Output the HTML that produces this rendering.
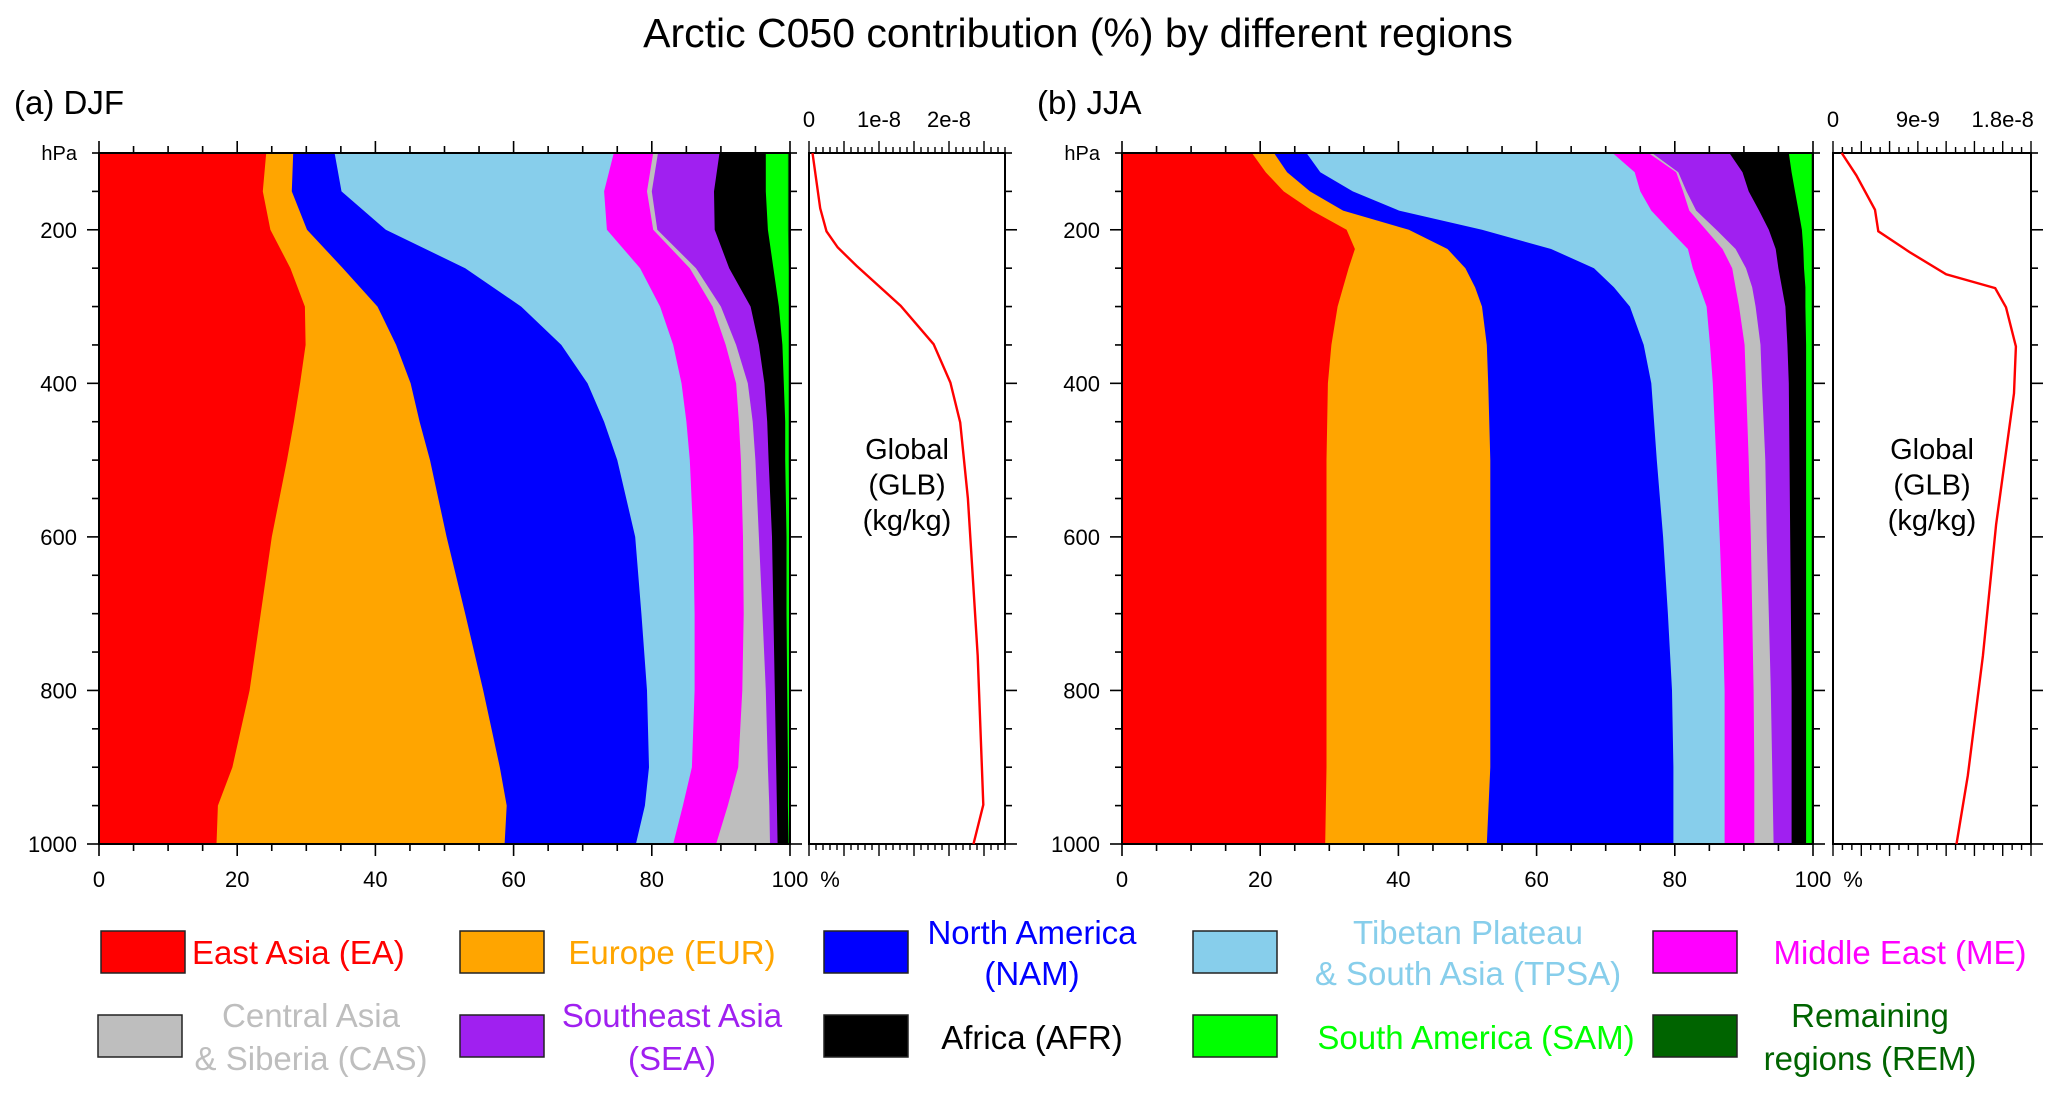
<!DOCTYPE html>
<html><head><meta charset="utf-8"><style>
html,body{margin:0;padding:0;background:#fff;}
svg{display:block;font-family:"Liberation Sans",Arial,sans-serif;}
</style></head><body>
<svg id="fig" width="2067" height="1102" viewBox="0 0 2067 1102" xmlns="http://www.w3.org/2000/svg">
<text x="1078" y="47" font-size="41" text-anchor="middle">Arctic C050 contribution (%) by different regions</text>
<g id="pa"></g>
<g id="pb"></g>
<g id="legend"></g>
</svg>
<script>
const regions = ["EA","EUR","NAM","TPSA","ME","CAS","SEA","AFR","SAM","REM"];
const colors = ["#ff0000","#ffa500","#0000ff","#87ceeb","#ff00ff","#bebebe","#a020f0","#000000","#00ff00","#006400"];
// DJF cumulative boundaries (%)
const djfLevels = [100,150,200,250,300,350,400,450,500,600,700,800,900,950,1000];
const djfEA  = [24.2,23.7,24.8,27.7,29.8,29.9,29.1,28.2,27.2,25.0,23.4,21.8,19.3,17.2,17.0];
const djfEUR = [28.1,27.9,30.1,35.3,40.3,43.0,45.1,46.4,47.9,50.3,53.0,55.6,58.0,59.0,58.7];
const djfNAM = [34.1,35.1,41.5,53.0,61.1,66.9,70.7,73.1,75.0,77.6,78.5,79.3,79.6,79.0,77.7];
const djfTPSA= [74.5,73.1,73.5,78.3,81.2,83.1,84.3,85.0,85.5,86.0,86.2,86.2,85.8,84.5,83.1];
const djfME  = [80.2,79.3,80.2,85.5,88.8,90.7,92.2,92.6,92.9,93.2,93.3,93.1,92.5,91.0,89.3];
const djfCAS = [80.9,80.0,80.8,86.4,90.0,92.2,93.9,94.6,95.0,95.5,96.0,96.5,96.8,97.0,97.1];
const djfSEA = [89.8,89.0,89.1,91.2,94.3,95.5,96.3,96.7,96.9,97.4,97.6,97.8,98.0,98.1,98.2];
const djfAFR = [96.5,96.5,96.8,97.6,98.4,98.9,99.1,99.3,99.3,99.5,99.5,99.6,99.7,99.7,99.8];
const djfSAM = [99.7,99.7,99.7,99.8,99.8,99.8,99.8,99.8,99.8,99.9,99.9,99.9,99.9,99.9,99.9];
const djfREM = [100,100,100,100,100,100,100,100,100,100,100,100,100,100,100];
const djfGlbLevels = [100,172,202,223,247,299,349,399,451,550,755,949,1000];
const djfGlb = [0.05e-8,0.16e-8,0.25e-8,0.41e-8,0.68e-8,1.31e-8,1.78e-8,2.02e-8,2.16e-8,2.27e-8,2.41e-8,2.49e-8,2.35e-8];
const djfGlbTicks = [0,1e-8,2e-8];
const djfGlbTickLabels = ["0","1e-8","2e-8"];
const djfGlbMax = 2.8e-8;
// JJA
const jjaLevels = [100,125,150,175,200,225,250,275,300,350,400,500,600,700,800,900,1000];
const jjaEA  = [18.8,20.8,23.4,27.5,32.5,33.7,32.8,32.0,31.2,30.3,29.8,29.6,29.6,29.6,29.6,29.6,29.4];
const jjaEUR = [22.0,23.9,27.2,32.0,41.5,47.1,49.7,51.1,52.1,52.8,53.0,53.3,53.3,53.3,53.3,53.3,52.8];
const jjaNAM = [26.7,28.7,33.4,40.1,52.1,62.1,68.3,71.2,73.5,75.5,76.6,77.4,78.3,79.0,79.6,79.8,79.8];
const jjaTPSA= [71.0,74.2,75.0,76.6,79.2,81.9,82.6,83.6,84.6,85.1,85.5,86.0,86.5,86.9,87.2,87.2,87.2];
const jjaME  = [76.2,80.2,81.2,82.1,84.5,86.9,88.3,88.8,89.3,90.1,90.3,90.7,91.0,91.2,91.4,91.5,91.5];
const jjaCAS = [76.7,80.5,81.7,83.1,86.0,88.8,90.3,91.2,91.7,92.4,92.6,93.1,93.3,93.6,93.9,94.1,94.3];
const jjaSEA = [87.9,89.8,90.7,92.2,93.6,94.6,95.0,95.5,96.0,96.3,96.5,96.6,96.7,96.8,96.9,96.9,96.9];
const jjaAFR = [96.5,96.9,97.4,97.9,98.4,98.6,98.7,98.9,98.9,99.0,99.0,99.0,99.0,99.0,99.0,99.0,99.0];
const jjaSAM = [99.8,99.8,99.8,99.8,99.8,99.8,99.8,99.8,99.8,99.8,99.8,99.8,99.8,99.8,99.8,99.8,99.8];
const jjaREM = [100,100,100,100,100,100,100,100,100,100,100,100,100,100,100,100,100];
const jjaGlbLevels = [100,129,174,202,229,258,276,301,352,413,584,755,911,1000];
const jjaGlb = [0.092e-8,0.247e-8,0.445e-8,0.48e-8,0.81e-8,1.20e-8,1.72e-8,1.835e-8,1.94e-8,1.92e-8,1.73e-8,1.59e-8,1.43e-8,1.31e-8];
const jjaGlbTicks = [0,9e-9,1.8e-8];
const jjaGlbTickLabels = ["0","9e-9","1.8e-8"];
const jjaGlbMax = 2.1e-8;
const pTicks = [200,400,600,800,1000];
const xTicks = [0,20,40,60,80,100];

const NS = "http://www.w3.org/2000/svg";
function mk(parent, tag, attrs, txt){
  const e = document.createElementNS(NS, tag);
  for (const k in attrs) e.setAttribute(k, attrs[k]);
  if (txt !== undefined) e.textContent = txt;
  parent.appendChild(e);
  return e;
}

function panel(g, o){
  const {x0,x1,gx0,gx1,y0,y1,levels,series,glbLevels,glb,glbTicks,glbTickLabels,glbMax,majorStep,minorStep,label,pctX} = o;
  const X = v => x0 + v/100*(x1-x0);
  const Y = p => y0 + (p-100)/900*(y1-y0);
  const GX = v => gx0 + v/glbMax*(gx1-gx0);
  for (let s = series.length-1; s >= 0; s--) {
    let d = "M" + X(0) + "," + Y(levels[0]);
    levels.forEach((p,i) => { d += " L" + X(series[s][i]).toFixed(1) + "," + Y(p).toFixed(1); });
    d += " L" + X(0) + "," + Y(levels[levels.length-1]) + " Z";
    const a = mk(g, "path", {d: d, fill: colors[s]});
    
    
  }
  const ax = {stroke:"#000","stroke-width":2,fill:"none"};
  const fr = mk(g,"rect",Object.assign({x:x0,y:y0,width:x1-x0,height:y1-y0},ax));
   
  const gf = mk(g,"rect",Object.assign({x:gx0,y:y0,width:gx1-gx0,height:y1-y0},ax));
   
  for (let v = 0; v <= 100; v += 5) {
    const L = v % 20 === 0 ? 12 : 7;
    mk(g,"line",{x1:X(v),x2:X(v),y1:y0,y2:y0-L,stroke:"#000","stroke-width":1.6});
    mk(g,"line",{x1:X(v),x2:X(v),y1:y1,y2:y1+L,stroke:"#000","stroke-width":1.6});
  }
  xTicks.forEach(v => {
    const t = mk(g,"text",{x:X(v),y:y1+43,"font-size":22,"text-anchor":"middle"}, String(v));
     
  });
  const pc = mk(g,"text",{x:pctX,y:y1+43,"font-size":22,"text-anchor":"middle"},"%");
   
  for (let p = 100; p <= 1000; p += 50) {
    const L = p % 200 === 0 ? 12 : 7;
    mk(g,"line",{x1:x0,x2:x0-L,y1:Y(p),y2:Y(p),stroke:"#000","stroke-width":1.6});
    mk(g,"line",{x1:x1,x2:x1+L,y1:Y(p),y2:Y(p),stroke:"#000","stroke-width":1.6});
    mk(g,"line",{x1:gx1,x2:gx1+L,y1:Y(p),y2:Y(p),stroke:"#000","stroke-width":1.6});
  }
  pTicks.forEach(p => {
    const t = mk(g,"text",{x:x0-22,y:Y(p)+8,"font-size":22,"text-anchor":"end"}, String(p));
     
  });
  const hp = mk(g,"text",{x:x0-22,y:y0+7,"font-size":20,"text-anchor":"end"},"hPa");
   
  const n = Math.floor(glbMax/minorStep + 1e-6);
  for (let k = 0; k <= n; k++) {
    const v = k*minorStep;
    const r = v/majorStep;
    const major = Math.abs(r - Math.round(r)) < 1e-6;
    const L = major ? 12 : 6;
    mk(g,"line",{x1:GX(v),x2:GX(v),y1:y0,y2:y0-L,stroke:"#000","stroke-width":1.4});
    mk(g,"line",{x1:GX(v),x2:GX(v),y1:y1,y2:y1+L,stroke:"#000","stroke-width":1.4});
  }
  glbTicks.forEach((v,i) => {
    const t = mk(g,"text",{x:GX(v),y:y0-26,"font-size":22,"text-anchor":"middle"}, glbTickLabels[i]);
     
  });
  let d = "";
  glbLevels.forEach((p,i) => { d += (i ? " L" : "M") + GX(glb[i]).toFixed(1) + "," + Y(p).toFixed(1); });
  const ln = mk(g,"path",{d:d,stroke:"#ff0000","stroke-width":2.4,fill:"none"});
   
  const cx = (gx0+gx1)/2;
  ["Global","(GLB)","(kg/kg)"].forEach((s,i) => {
    const t = mk(g,"text",{x:cx,y:459+i*35.5,"font-size":29,"text-anchor":"middle"}, s);
     
  });
  const pl = mk(g,"text",{x:x0-85,y:114,"font-size":33}, label);
   
}

panel(document.getElementById("pa"), {x0:99,x1:790,gx0:809,gx1:1005,y0:153,y1:844,
  levels:djfLevels, series:[djfEA,djfEUR,djfNAM,djfTPSA,djfME,djfCAS,djfSEA,djfAFR,djfSAM,djfREM],
  glbLevels:djfGlbLevels, glb:djfGlb, glbTicks:djfGlbTicks, glbTickLabels:djfGlbTickLabels, glbMax:djfGlbMax,
  majorStep:0.5e-8, minorStep:0.1e-8, label:"(a) DJF", pctX:830});
panel(document.getElementById("pb"), {x0:1122,x1:1813,gx0:1833,gx1:2031,y0:153,y1:844,
  levels:jjaLevels, series:[jjaEA,jjaEUR,jjaNAM,jjaTPSA,jjaME,jjaCAS,jjaSEA,jjaAFR,jjaSAM,jjaREM],
  glbLevels:jjaGlbLevels, glb:jjaGlb, glbTicks:jjaGlbTicks, glbTickLabels:jjaGlbTickLabels, glbMax:jjaGlbMax,
  majorStep:3e-9, minorStep:1e-9, label:"(b) JJA", pctX:1853});

const lg = document.getElementById("legend");
const items = [
  {c:0,bx:101,by:931,lines:["East Asia (EA)"],tx:192,anchor:"start",ty:[964]},
  {c:1,bx:460,by:931,lines:["Europe (EUR)"],tx:672,anchor:"middle",ty:[964]},
  {c:2,bx:824,by:931,lines:["North America","(NAM)"],tx:1032,anchor:"middle",ty:[944,985]},
  {c:3,bx:1193,by:931,lines:["Tibetan Plateau","& South Asia (TPSA)"],tx:1468,anchor:"middle",ty:[944,985]},
  {c:4,bx:1653,by:931,lines:["Middle East (ME)"],tx:1900,anchor:"middle",ty:[964]},
  {c:5,bx:98,by:1015,lines:["Central Asia","& Siberia (CAS)"],tx:311,anchor:"middle",ty:[1027,1070]},
  {c:6,bx:460,by:1015,lines:["Southeast Asia","(SEA)"],tx:672,anchor:"middle",ty:[1027,1070]},
  {c:7,bx:824,by:1015,lines:["Africa (AFR)"],tx:1032,anchor:"middle",ty:[1049]},
  {c:8,bx:1193,by:1015,lines:["South America (SAM)"],tx:1476,anchor:"middle",ty:[1049]},
  {c:9,bx:1653,by:1015,lines:["Remaining","regions (REM)"],tx:1870,anchor:"middle",ty:[1027,1070]}
];
items.forEach(it => {
  const e = mk(lg,"g",{});
  
  
  mk(e,"rect",{x:it.bx,y:it.by,width:84,height:42,fill:colors[it.c],stroke:"#222","stroke-width":1.5});
  it.lines.forEach((s,i) => {
    mk(e,"text",{x:it.tx,y:it.ty[i],"font-size":33,"text-anchor":it.anchor,fill:colors[it.c]}, s);
  });
});
</script>
</body></html>
